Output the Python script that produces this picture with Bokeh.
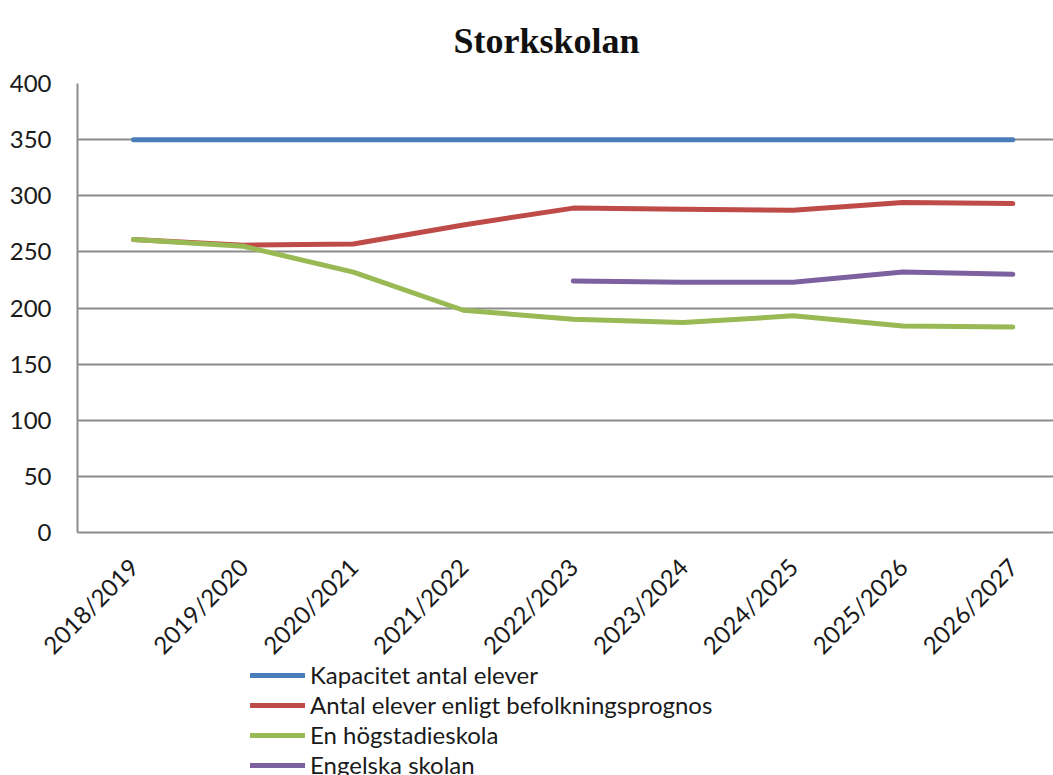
from bokeh.plotting import figure
from bokeh.layouts import column
from bokeh.models import (ColumnDataSource, Range1d, FixedTicker, Legend, LegendItem, Label)
from bokeh.embed import file_html
from bokeh.resources import INLINE
import numpy as np

categories = ["2018/2019", "2019/2020", "2020/2021", "2021/2022", "2022/2023",
              "2023/2024", "2024/2025", "2025/2026", "2026/2027"]
kapacitet = [350, 350, 350, 350, 350, 350, 350, 350, 350]
befolkning = [261, 256, 257, 274, 289, 288, 287, 294, 293]
hogstadie = [261, 255, 232, 198, 190, 187, 193, 184, 183]
engelska = [None, None, None, None, 224, 223, 223, 232, 230]
y_ticks = [0, 50, 100, 150, 200, 250, 300, 350, 400]

chart_title = "Storkskolan"
series_names = ["Kapacitet antal elever", "Antal elever enligt befolkningsprognos",
                "En högstadieskola", "Engelska skolan"]
colors = ["#4A7EBB", "#BE4B48", "#98B954", "#7D60A0"]
columns = ["kap", "bef", "hog", "eng"]

xs = list(range(len(categories)))
src = ColumnDataSource(dict(
    x=xs,
    kap=kapacitet,
    bef=befolkning,
    hog=hogstadie,
    eng=[np.nan if v is None else v for v in engelska],
))

# ---- title strip ----
tt = figure(width=1053, height=68, output_backend="svg", toolbar_location=None,
            x_range=Range1d(0, 1), y_range=Range1d(0, 1),
            x_axis_location=None, y_axis_location=None, min_border=0)
tt.grid.visible = False
tt.outline_line_color = None
tt.add_layout(Label(x=376, y=28, x_units="screen", y_units="screen", text=chart_title,
                    text_font="Liberation Serif", text_font_style="bold",
                    text_font_size="36px", text_color="#111111",
                    text_align="left", text_baseline="alphabetic"))

# ---- main chart ----
p = figure(width=1053, height=604, output_backend="svg", toolbar_location=None,
           x_range=Range1d(-0.51, 8.37), y_range=Range1d(0, 400))
p.min_border_left = 77
p.min_border_right = 0
p.min_border_top = 15
p.min_border_bottom = 140
p.outline_line_color = None
p.background_fill_color = "white"
p.border_fill_color = "white"

for col, c in zip(columns, colors):
    p.line("x", col, source=src, line_color=c, line_width=5,
           line_cap="round", line_join="round")

grid_col = "#8C8C8C"
p.xgrid.visible = False
p.ygrid.ticker = FixedTicker(ticks=y_ticks)
p.ygrid.grid_line_color = grid_col
p.ygrid.grid_line_width = 2

p.yaxis.ticker = FixedTicker(ticks=y_ticks)
p.yaxis.axis_line_color = grid_col
p.yaxis.axis_line_width = 2
p.yaxis.major_tick_line_color = None
p.yaxis.minor_tick_line_color = None
p.yaxis.major_label_standoff = 20
p.yaxis.major_label_text_font = "Lato"
p.yaxis.major_label_text_font_size = "24px"
p.yaxis.major_label_text_color = "#1a1a1a"

p.xaxis.ticker = FixedTicker(ticks=xs)
p.xaxis.major_label_overrides = {i: c for i, c in enumerate(categories)}
p.xaxis.major_label_orientation = np.pi / 4
p.xaxis.axis_line_color = grid_col
p.xaxis.axis_line_width = 2
p.xaxis.major_tick_line_color = None
p.xaxis.minor_tick_line_color = None
p.xaxis.major_label_standoff = 24
p.xaxis.major_label_text_font = "Lato"
p.xaxis.major_label_text_font_size = "24px"
p.xaxis.major_label_text_color = "#1a1a1a"

# ---- legend strip (its lines lie outside its own empty frame) ----
lg = figure(width=1053, height=115, output_backend="svg", toolbar_location=None,
            x_range=Range1d(0, 1), y_range=Range1d(0, 1),
            x_axis_location=None, y_axis_location=None, min_border=0,
            margin=(-12, 0, 0, 0))
lg.grid.visible = False
lg.outline_line_color = None
lg.border_fill_alpha = 0
lg.background_fill_alpha = 0
lg_renderers = [lg.line("x", col, source=src, line_color=c, line_width=5, line_cap="round")
                for col, c in zip(columns, colors)]
legend = Legend(items=[LegendItem(label=n, renderers=[r]) for n, r in zip(series_names, lg_renderers)],
                location=(173, -4), orientation="vertical",
                glyph_width=55, glyph_height=20, label_height=20, label_standoff=5,
                spacing=1, padding=0, margin=0, border_line_color=None,
                background_fill_alpha=0, label_text_font="Lato",
                label_text_font_size="24px", label_text_color="#1a1a1a")
lg.add_layout(legend)

layout = column(tt, p, lg, spacing=0)
open("out.html", "w").write(file_html(layout, INLINE))
